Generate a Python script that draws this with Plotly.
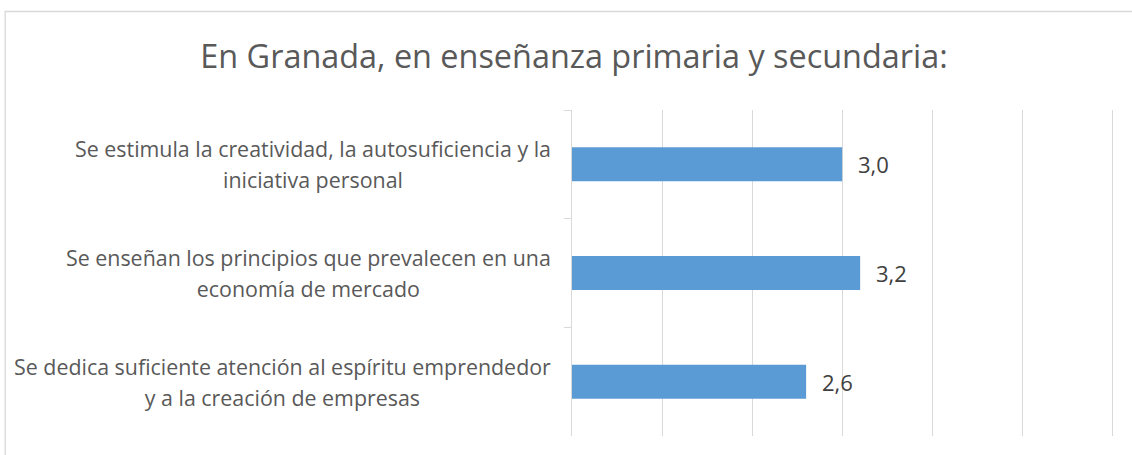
import plotly.graph_objects as go

title = "En Granada, en enseñanza primaria y secundaria:"
categories = [
    "Se estimula la creatividad, la autosuficiencia y la\niniciativa personal",
    "Se enseñan los principios que prevalecen en una\neconomía de mercado",
    "Se dedica suficiente atención al espíritu emprendedor\ny a la creación de empresas",
]
values = [3.0, 3.2, 2.6]
x_max = 6

FONT = "Open Sans"
W, H = 1132, 455
L, R, T, B = 572, 17.3, 110, 19
pw, ph = W - L - R, H - T - B

def px_to_paper_x(px):
    return (px - L) / pw

def px_to_paper_y(py):
    return (H - B - py) / ph

fig = go.Figure()
fig.add_trace(go.Bar(
    x=values, y=categories, orientation="h",
    marker=dict(color="#5B9BD5", line=dict(width=0)),
    hoverinfo="skip",
))

annotations = []
for c, v in zip(categories, values):
    annotations.append(dict(
        x=v, y=c, xref="x", yref="y", xanchor="left", yanchor="middle",
        xshift=14, showarrow=False,
        text=f"{v:.1f}".replace(".", ","),
        font=dict(family=FONT, size=22, color="#404040"),
    ))
    lines = c.split("\n")
    txt = "<br>".join(f"<span style='font-size:21.4px'>{ln}</span>" for ln in lines)
    annotations.append(dict(
        x=px_to_paper_x(553), y=c, xref="paper", yref="y",
        xanchor="right", yanchor="middle", align="center", showarrow=False,
        text=txt,
        font=dict(family=FONT, size=24, color="#595959"),
    ))

fig.update_layout(
    width=W, height=H,
    margin=dict(l=L, r=R, t=T, b=B),
    paper_bgcolor="white", plot_bgcolor="white",
    showlegend=False,
    bargap=0.687,
    title=dict(text=title, x=574 / W, xref="container", xanchor="center",
               y=1 - 57 / H, yref="container", yanchor="middle",
               font=dict(family=FONT, size=32.4, color="#595959")),
    annotations=annotations,
    shapes=[dict(type="rect", xref="paper", yref="paper",
                 x0=px_to_paper_x(5.5), x1=px_to_paper_x(1250),
                 y0=px_to_paper_y(520), y1=px_to_paper_y(11.5),
                 line=dict(color="#D9D9D9", width=1.3), layer="below")],
)
fig.update_xaxes(range=[0, x_max * 1.005], dtick=1, showgrid=True, gridcolor="#D9D9D9",
                 gridwidth=1, zeroline=False, showline=False, showticklabels=False,
                 ticks="")
fig.update_yaxes(autorange="reversed", showline=True, linecolor="#D9D9D9",
                 linewidth=1, ticks="outside", tickson="boundaries", ticklen=7,
                 tickcolor="#D9D9D9", showticklabels=False, showgrid=False)

fig.write_html("out.html", config={"displayModeBar": False},
               post_script="document.body.style.margin='0';document.body.style.overflow='hidden';")
